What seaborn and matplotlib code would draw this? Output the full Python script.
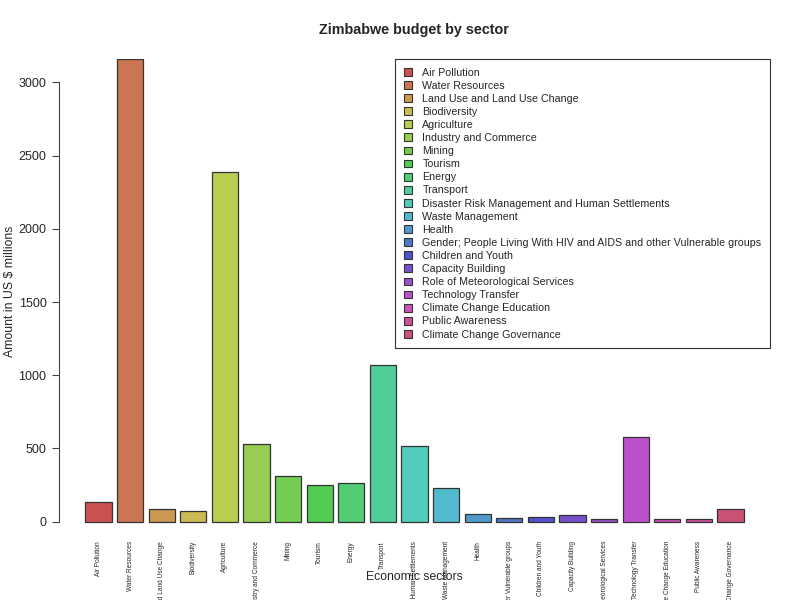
import matplotlib
matplotlib.use("Agg")
import matplotlib.pyplot as plt
from matplotlib.patches import Patch
import seaborn as sns
import pandas as pd

# data
sectors = [
    "Air Pollution",
    "Water Resources",
    "Land Use and Land Use Change",
    "Biodiversity",
    "Agriculture",
    "Industry and Commerce",
    "Mining",
    "Tourism",
    "Energy",
    "Transport",
    "Disaster Risk Management and Human Settlements",
    "Waste Management",
    "Health",
    "Gender; People Living With HIV and AIDS and other Vulnerable groups",
    "Children and Youth",
    "Capacity Building",
    "Role of Meteorological Services",
    "Technology Transfer",
    "Climate Change Education",
    "Public Awareness",
    "Climate Change Governance",
]
amounts = [132, 3159, 89, 73, 2385, 530, 312, 250, 262, 1070, 519,
           230, 50, 23, 32, 44, 20, 576, 16, 16, 87]
yticks = [0, 500, 1000, 1500, 2000, 2500, 3000]

df = pd.DataFrame({"sector": sectors, "amount": amounts})
# rainbow-ish palette (hsv s=0.6, v=0.8)
colors = sns.hls_palette(len(sectors), h=0, l=0.56, s=0.545)

sns.set_style("white")
plt.rcParams["font.family"] = ["Liberation Sans", "DejaVu Sans"]

fig = plt.figure(figsize=(8, 6), dpi=100)
ax = fig.add_axes([59 / 800, 1 - 527 / 600, (770 - 59) / 800, (527 - 59) / 600])

sns.barplot(data=df, x="sector", y="amount", hue="sector", palette=colors,
            legend=False, width=1 / 1.2, edgecolor="#333333", linewidth=0.9,
            saturation=1, ax=ax)

ax.set_xlim(-1.25, 21.25)
ax.set_ylim(-36, 3159)
ax.set_yticks(yticks)
ax.set_yticklabels([str(v) for v in yticks], fontsize=9)
ax.tick_params(axis="y", length=5, width=0.8, color="#444444", pad=4, left=True)
ax.tick_params(axis="x", length=0, pad=10)
ax.set_xticks(range(len(sectors)))
ax.set_xticklabels(sectors, rotation=90, fontsize=4.7, va="top", ha="center")
for s in ["top", "right", "bottom"]:
    ax.spines[s].set_visible(False)
ax.spines["left"].set_bounds(0, 3000)
ax.spines["left"].set_color("#444444")
ax.spines["left"].set_linewidth(0.8)
ax.set_xlabel("")
ax.set_ylabel("")

# legend in the top right corner
handles = [Patch(facecolor=c, edgecolor="#333333", linewidth=0.8) for c in colors]
leg = ax.legend(handles, sectors, loc="upper right", bbox_to_anchor=(1, 1),
                borderaxespad=0, fontsize=7.7, frameon=True, fancybox=False,
                framealpha=1, edgecolor="#333333", handlelength=0.75,
                handleheight=0.75, handletextpad=1.0, labelspacing=0.29,
                borderpad=0.8)
leg.get_frame().set_linewidth(0.8)

fig.text(414 / 800, 1 - 30 / 600, "Zimbabwe budget by sector", ha="center",
         va="center", fontsize=10.4, fontweight="bold")
fig.text(414 / 800, 1 - 577 / 600, "Economic sectors", ha="center",
         va="center", fontsize=8.8)
fig.text(10 / 800, 1 - 291 / 600, "Amount in US $ millions", ha="center",
         va="center", rotation=90, fontsize=8.8)

fig.savefig("out.png", dpi=100)
